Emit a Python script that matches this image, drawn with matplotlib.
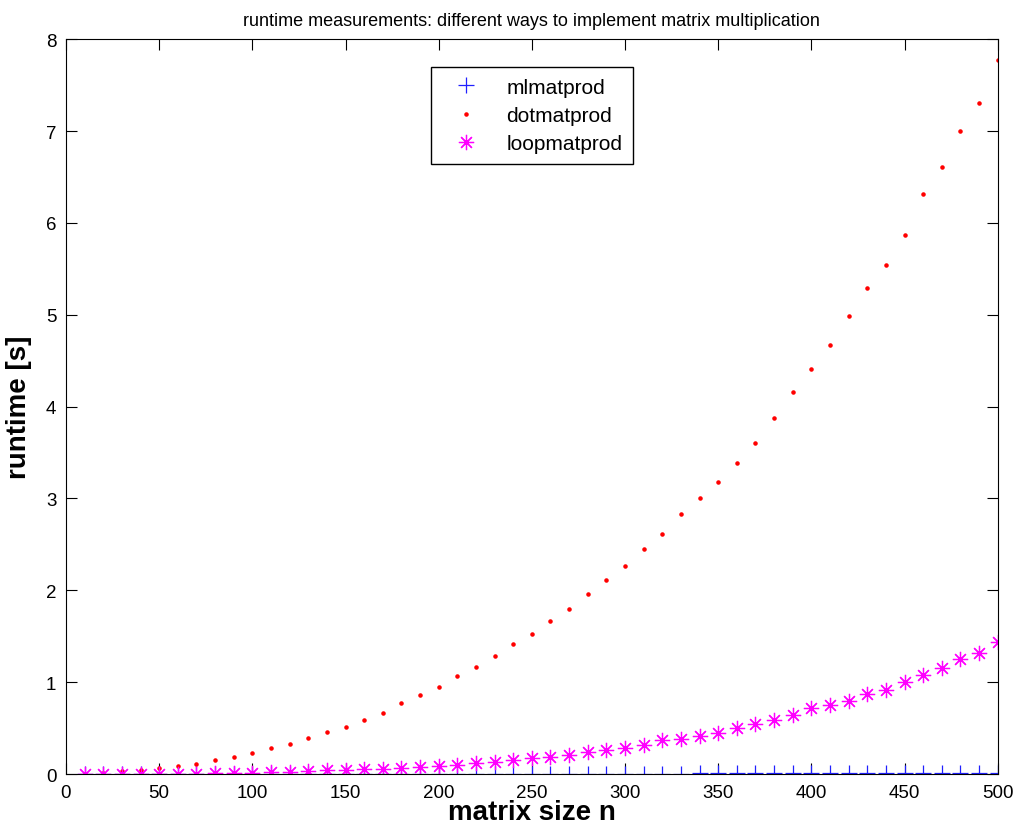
import numpy as np
import matplotlib
matplotlib.use("Agg")
import matplotlib.pyplot as plt

plt.rcParams['font.family'] = ['Liberation Sans', 'DejaVu Sans']

# matrix sizes n = 10, 20, ..., 500
n = [10, 20, 30, 40, 50, 60, 70, 80, 90, 100,
     110, 120, 130, 140, 150, 160, 170, 180, 190, 200,
     210, 220, 230, 240, 250, 260, 270, 280, 290, 300,
     310, 320, 330, 340, 350, 360, 370, 380, 390, 400,
     410, 420, 430, 440, 450, 460, 470, 480, 490, 500]

# runtimes in seconds
mlmatprod = [0.0, 0.0, 0.0, 0.0, 0.0, 0.0, 0.0, 0.0, 0.0, 0.001,
             0.001, 0.001, 0.001, 0.001, 0.001, 0.001, 0.002, 0.002, 0.002, 0.002,
             0.002, 0.003, 0.003, 0.003, 0.003, 0.004, 0.004, 0.004, 0.005, 0.005,
             0.005, 0.006, 0.006, 0.007, 0.007, 0.008, 0.008, 0.008, 0.009, 0.009,
             0.010, 0.010, 0.011, 0.011, 0.012, 0.012, 0.013, 0.013, 0.014, 0.015]
dotmatprod = [0.005, 0.015, 0.03, 0.047, 0.065, 0.084, 0.11, 0.15, 0.185, 0.23,
              0.28, 0.33, 0.39, 0.46, 0.51, 0.59, 0.67, 0.77, 0.86, 0.95,
              1.07, 1.17, 1.29, 1.42, 1.53, 1.67, 1.80, 1.96, 2.11, 2.26,
              2.45, 2.61, 2.83, 3.01, 3.18, 3.39, 3.60, 3.88, 4.16, 4.41,
              4.67, 4.99, 5.29, 5.54, 5.87, 6.31, 6.61, 7.00, 7.30, 7.77]
loopmatprod = [0.0005, 0.001, 0.002, 0.003, 0.004, 0.005, 0.006, 0.007, 0.008, 0.011,
               0.018, 0.025, 0.033, 0.04, 0.043, 0.05, 0.058, 0.065, 0.076, 0.087,
               0.10, 0.116, 0.134, 0.156, 0.17, 0.185, 0.207, 0.24, 0.26, 0.286,
               0.316, 0.367, 0.38, 0.41, 0.45, 0.50, 0.544, 0.587, 0.64, 0.715,
               0.75, 0.80, 0.87, 0.92, 1.00, 1.08, 1.15, 1.25, 1.32, 1.44]

fig = plt.figure(figsize=(10.15, 8.37), dpi=100)
ax = fig.add_axes([0.065, 0.074, 0.918, 0.878])

ax.plot(n, mlmatprod, '+', color='#2020ff', markersize=11, markeredgewidth=0.9, label='mlmatprod')
ax.plot(n, dotmatprod, '.', color='#ff0000', markersize=4.5, label='dotmatprod')
ax.plot(n, loopmatprod, linestyle='none', marker=(8, 2, 0), color='#ff00ff',
        markersize=11, markeredgewidth=0.9, label='loopmatprod')

ax.set_xlim(0, 500)
ax.set_ylim(0, 8)
ax.set_xticks(np.arange(0, 501, 50))
ax.set_yticks(np.arange(0, 9, 1))
ax.tick_params(direction='in', top=True, right=True, labelsize=13.5, length=8, pad=7)

ax.set_title('runtime measurements: different ways to implement matrix multiplication',
             fontsize=13, pad=10)
ax.set_xlabel('matrix size n', fontsize=20, fontweight='bold', labelpad=-1)
ax.set_ylabel('runtime [s]', fontsize=20, fontweight='bold', labelpad=10)

leg = ax.legend(loc='upper center', bbox_to_anchor=(0.5, 0.976), fontsize=15,
                fancybox=False, edgecolor='black', framealpha=1,
                handletextpad=0.8, borderpad=0.5, labelspacing=0.45, handlelength=2.3)
leg.get_frame().set_linewidth(1.0)

fig.savefig('out.png', dpi=100)
